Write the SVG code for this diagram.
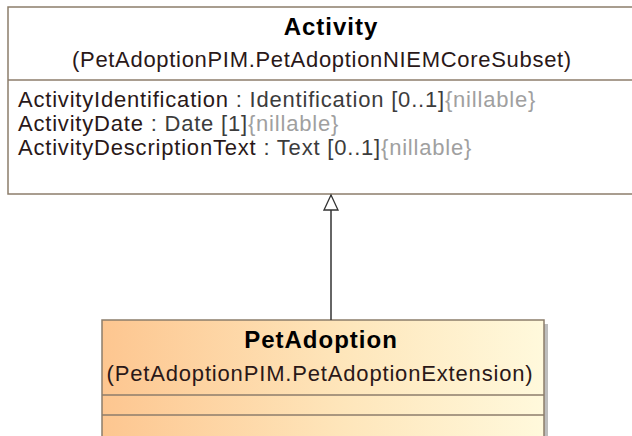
<svg xmlns="http://www.w3.org/2000/svg" width="632" height="436" viewBox="0 0 632 436">
<style>
.box{stroke:#8c7d6b;stroke-width:1.5}
.t{font-family:"Liberation Sans",Arial,sans-serif;font-size:22px;letter-spacing:0.8px;fill:#2a1818}
.b{font-weight:bold;fill:#000;font-size:24px;letter-spacing:1px}
.g{fill:#a0a0a0}
.d{fill:#3c3c3c}
.c{text-anchor:middle}
.conn{stroke:#333;stroke-width:1.5;fill:none}
</style>
<defs>
<linearGradient id="grad" x1="0" y1="0" x2="1" y2="0">
<stop offset="0" stop-color="#fdc690"/>
<stop offset="0.55" stop-color="#fee6bb"/>
<stop offset="1" stop-color="#fff9dc"/>
</linearGradient>
<marker id="gen" markerWidth="18" markerHeight="18" refX="16" refY="8" orient="auto" markerUnits="userSpaceOnUse">
<path d="M1,1 L16,8 L1,15 Z" fill="#fff" stroke="#333" stroke-width="1.3"/>
</marker>
</defs>
<g id="Activity">
<rect class="box" x="8" y="7" width="640" height="187" fill="#fff"/>
<line class="box" x1="8" y1="80" x2="648" y2="80"/>
<text class="t b c" x="331" y="35">Activity</text>
<text class="t c" x="322" y="67" textLength="500" lengthAdjust="spacing">(PetAdoptionPIM.PetAdoptionNIEMCoreSubset)</text>
<text class="t" x="18" y="107">ActivityIdentification<tspan class="d"> : Identification [0..1]</tspan><tspan class="g">{nillable}</tspan></text>
<text class="t" x="18" y="131">ActivityDate<tspan class="d"> : Date [1]</tspan><tspan class="g">{nillable}</tspan></text>
<text class="t" x="18" y="155">ActivityDescriptionText<tspan class="d"> : Text [0..1]</tspan><tspan class="g">{nillable}</tspan></text>
</g>
<g id="PetAdoption">
<rect x="106" y="324" width="442" height="120" fill="#bdbdbd"/>
<rect class="box" x="102" y="320" width="442" height="120" fill="url(#grad)"/>
<line class="box" x1="102" y1="395" x2="544" y2="395"/>
<line class="box" x1="102" y1="415" x2="544" y2="415"/>
<text class="t b c" x="321" y="348">PetAdoption</text>
<text class="t c" x="320" y="381" textLength="427" lengthAdjust="spacing">(PetAdoptionPIM.PetAdoptionExtension)</text>
</g>
<g id="connectors">
<line class="conn" x1="331" y1="320" x2="331" y2="195" marker-end="url(#gen)"/>
</g>
</svg>
